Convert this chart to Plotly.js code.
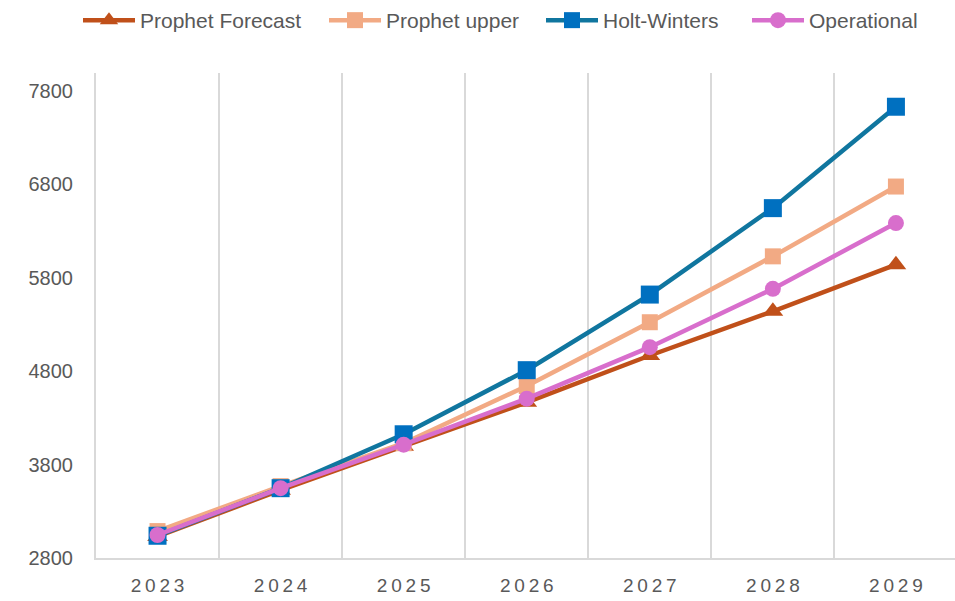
<!DOCTYPE html>
<html>
<head>
<meta charset="utf-8">
<script src="https://cdn.plot.ly/plotly-3.0.1.min.js"></script>
<style>html,body{margin:0;padding:0;background:#fff;}#chart{width:955px;height:601px;}</style>
</head>
<body>
<div id="chart"></div>
<script>
const years = ["2023", "2024", "2025", "2026", "2027", "2028", "2029"];
const yearLabels = ["2\u20090\u20092\u20093", "2\u20090\u20092\u20094", "2\u20090\u20092\u20095", "2\u20090\u20092\u20096", "2\u20090\u20092\u20097", "2\u20090\u20092\u20098", "2\u20090\u20092\u20099"];
const prophetForecast = [3030, 3526, 3996, 4466, 4967, 5440, 5939];
const prophetUpper = [3088, 3569, 4028, 4640, 5323, 6028, 6775];
const holtWinters = [3038, 3547, 4124, 4810, 5619, 6544, 7629];
const operational = [3046, 3547, 4013, 4505, 5056, 5680, 6384];
const yTicks = [2800, 3800, 4800, 5800, 6800, 7800];

const fam = "Liberation Sans, Arial, sans-serif";
const grey = "#595959";

const traces = [
  {name: "Prophet Forecast", legend: "legend", x: years, y: prophetForecast, type: "scatter", mode: "lines+markers",
   line: {color: "#C0501A", width: 4.5}, marker: {symbol: "triangle-up", size: 18, color: "#C0501A"}},
  {name: "Prophet upper", legend: "legend2", x: years, y: prophetUpper, type: "scatter", mode: "lines+markers",
   line: {color: "#F2AA84", width: 4.5}, marker: {symbol: "square", size: 16, color: "#F2AA84"}},
  {name: "Holt-Winters", legend: "legend3", x: years, y: holtWinters, type: "scatter", mode: "lines+markers",
   line: {color: "#10769F", width: 4.5}, marker: {symbol: "square", size: 18, color: "#0070C0"}},
  {name: "Operational", legend: "legend4", x: years, y: operational, type: "scatter", mode: "lines+markers",
   line: {color: "#D86ECC", width: 4.5}, marker: {symbol: "circle", size: 16, color: "#D86ECC"}}
];

function leg(px) {
  return {orientation: "h", xref: "container", yref: "container", x: px / 955, y: 1.0,
          xanchor: "left", yanchor: "top", font: {family: fam, color: grey, size: 21},
          itemwidth: 52, bgcolor: "rgba(0,0,0,0)"};
}

const layout = {
  width: 955, height: 601,
  margin: {l: 96, r: 0, t: 73, b: 43},
  paper_bgcolor: "#ffffff", plot_bgcolor: "#ffffff",
  font: {family: fam, color: grey},
  showlegend: true,
  legend: leg(78), legend2: leg(324), legend3: leg(541), legend4: leg(747),
  xaxis: {
    type: "category", tickvals: years, ticktext: yearLabels,
    range: [-0.5, 6.48], tickson: "boundaries",
    showgrid: true, gridcolor: "#d9d9d9", gridwidth: 2,
    showline: true, linecolor: "#d9d9d9", linewidth: 2,
    ticks: "", ticklabelstandoff: 9, zeroline: false,
    tickfont: {family: fam, color: grey, size: 19}
  },
  yaxis: {
    range: [2800, 7990], tickvals: yTicks,
    showgrid: false, zeroline: false, showline: true, linecolor: "#d9d9d9", linewidth: 2,
    ticks: "outside", ticklen: 17, tickcolor: "rgba(0,0,0,0)",
    tickfont: {family: fam, color: grey, size: 20}
  }
};

Plotly.newPlot("chart", traces, layout, {displayModeBar: false, staticPlot: true});
</script>
</body>
</html>
